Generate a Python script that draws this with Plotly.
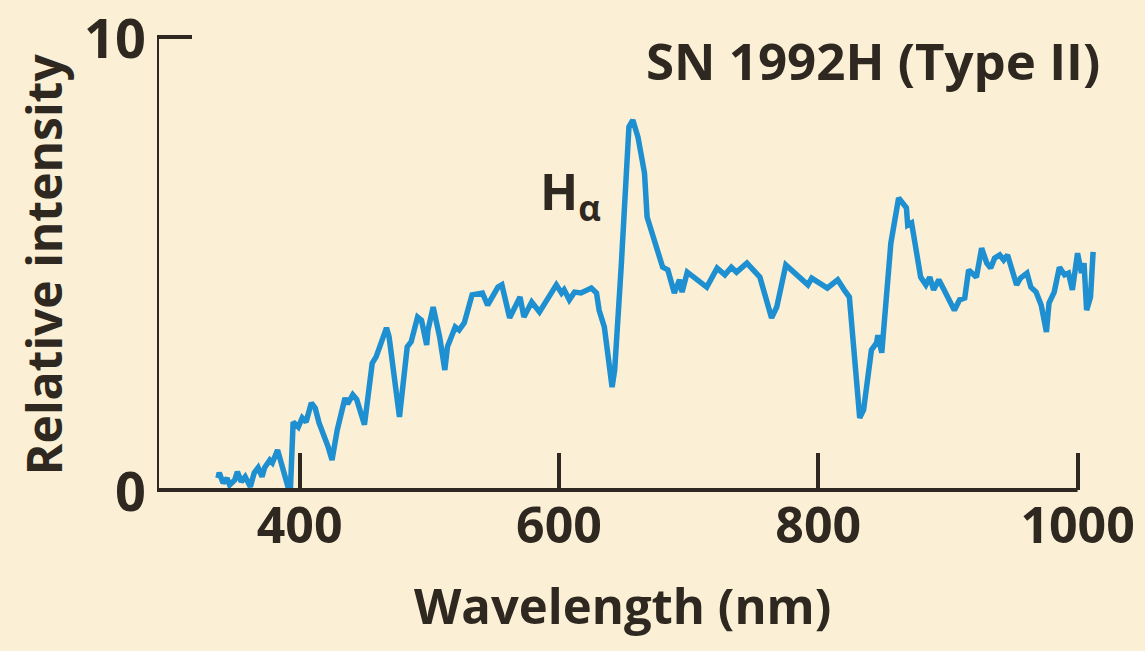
import plotly.graph_objects as go

# Spectrum of SN 1992H
wavelength_nm = [
    337, 338, 341, 344, 346, 350, 352, 355, 358, 362, 365, 368, 371, 373, 377, 379, 383, 387,
    391, 393, 395, 399, 402, 405, 409, 412, 415, 422, 425, 429, 432, 435, 437, 441, 444,
    450, 456, 459, 467, 469, 477, 483, 486, 491, 494, 498, 499, 503, 508, 512, 514, 520,
    523, 527, 533, 541, 545, 553, 556, 562, 570, 573, 579, 585, 598, 602, 604, 608, 612,
    617, 625, 629, 631, 635, 641, 643, 648, 652, 654, 657, 661, 666, 668, 680, 684, 689,
    693, 695, 699, 714, 722, 728, 733, 737, 745, 755, 758, 764, 768, 775, 792, 795, 807,
    815, 820, 824, 832, 835, 841, 845, 846, 849, 856, 862, 868, 869, 872, 879, 883, 886,
    889, 893, 897, 899, 905, 909, 913, 916, 922, 926, 930, 933, 936, 940, 943, 946, 949,
    953, 956, 961, 964, 968, 972, 976, 978, 982, 986, 990, 993, 996, 1000, 1003, 1005,
    1007, 1010, 1012,
]
intensity = [
    0.26, 0.38, 0.15, 0.26, 0.11, 0.22, 0.40, 0.18, 0.29, 0.07, 0.38, 0.49, 0.29, 0.49, 0.66,
    0.60, 0.88, 0.51, 0.07, 0.07, 1.50, 1.39, 1.59, 1.50, 1.92, 1.81, 1.48, 0.95, 0.66, 1.32,
    1.72, 2.03, 1.90, 2.10, 2.00, 1.44, 2.80, 2.94, 3.58, 3.38, 1.61, 3.16, 3.27, 3.82, 3.75,
    3.20, 3.53, 4.04, 3.38, 2.65, 3.16, 3.60, 3.53, 3.69, 4.31, 4.35, 4.08, 4.48, 4.53, 3.80,
    4.26, 3.82, 4.15, 3.93, 4.53, 4.35, 4.42, 4.20, 4.37, 4.35, 4.46, 4.35, 3.97, 3.60, 2.27,
    2.65, 4.92, 6.78, 8.02, 8.17, 7.79, 7.00, 6.03, 4.92, 4.86, 4.35, 4.64, 4.37, 4.81, 4.48,
    4.90, 4.75, 4.92, 4.81, 5.01, 4.70, 4.42, 3.80, 4.04, 4.97, 4.53, 4.68, 4.46, 4.64, 4.42,
    4.26, 1.59, 1.77, 3.09, 3.25, 3.42, 3.03, 5.45, 6.45, 6.23, 5.85, 5.90, 4.70, 4.53, 4.70,
    4.42, 4.64, 4.42, 4.31, 3.97, 4.20, 4.24, 4.86, 4.70, 5.34, 5.01, 4.90, 5.12, 5.19, 5.08,
    5.19, 4.92, 4.53, 4.68, 4.79, 4.48, 4.37, 4.08, 3.49, 4.13, 4.37, 4.92, 4.75, 4.79, 4.42,
    5.23, 4.79, 5.01, 3.97, 4.26, 5.26,
]
x_ticks = [400, 600, 800, 1000]
x_tick_labels = ["400", "600", "800", "1000"]
y_ticks = [0, 10]
y_tick_labels = ["0", "10"]

BG = "#FBF0D5"
INK = "#2E2821"
BLUE = "#1E8FD0"
FONT = "Open Sans"

X_MIN, X_MAX = 290, 1015
Y_MIN, Y_MAX = -0.4, 10.05

fig = go.Figure()
fig.add_trace(go.Scatter(
    x=wavelength_nm, y=intensity, mode="lines",
    line=dict(color=BLUE, width=5.5), hoverinfo="skip", showlegend=False,
))

# axis lines: x axis ends at the last tick (1000 nm), y axis runs 0..10
fig.add_shape(type="line", xref="x", yref="y", x0=X_MIN, x1=1000, y0=0, y1=0,
              line=dict(color=INK, width=4), layer="above")
fig.add_shape(type="line", xref="x", yref="y", x0=X_MIN, x1=X_MIN, y0=0, y1=10,
              line=dict(color=INK, width=4), layer="above")

# y tick labels as text placed at their values, right of the axis
y_label_annotations = [
    dict(text=lab, xref="paper", yref="y", x=-0.0096, y=val,
         xanchor="right", yanchor="middle", showarrow=False,
         font=dict(family=FONT, size=54, color=INK, weight=700))
    for val, lab in zip(y_ticks, y_tick_labels)
]

fig.update_layout(
    width=1145, height=651,
    margin=dict(l=157, r=48, t=35, b=143),
    paper_bgcolor=BG, plot_bgcolor=BG,
    font=dict(family=FONT, color=INK),
    xaxis=dict(
        range=[X_MIN, X_MAX], showgrid=False, zeroline=False, showline=False,
        anchor="free", position=(0 - Y_MIN) / (Y_MAX - Y_MIN),
        tickmode="array", tickvals=x_ticks, ticktext=x_tick_labels,
        ticks="inside", ticklen=37, tickwidth=4, tickcolor=INK,
        tickfont=dict(family=FONT, size=50, color=INK, weight=700),
        ticklabelstandoff=2, automargin=False,
    ),
    yaxis=dict(
        range=[Y_MIN, Y_MAX], showgrid=False, zeroline=False, showline=False,
        tickmode="array", tickvals=y_ticks, showticklabels=False,
        ticks="inside", ticklen=35, tickwidth=4, tickcolor=INK,
        automargin=False,
    ),
    annotations=y_label_annotations + [
        dict(text="SN 1992H (Type II)", xref="paper", yref="paper", x=1.005, y=0.947,
             xanchor="right", yanchor="middle", showarrow=False,
             font=dict(family=FONT, size=51, color=INK, weight=700)),
        dict(text="H<sub>α</sub>", xref="paper", yref="paper", x=0.405, y=0.664,
             xanchor="left", yanchor="middle", showarrow=False,
             font=dict(family=FONT, size=50, color=INK, weight=700)),
        dict(text="Wavelength (nm)", xref="paper", yref="paper", x=0.4947, y=-0.206,
             xanchor="center", yanchor="middle", showarrow=False,
             font=dict(family=FONT, size=49, color=INK, weight=700)),
        dict(text="Relative intensity", xref="paper", yref="paper", x=-0.12, y=0.516,
             xanchor="center", yanchor="middle", textangle=-90, showarrow=False,
             font=dict(family=FONT, size=48, color=INK, weight=700)),
    ],
)

fig.write_html("out.html")
